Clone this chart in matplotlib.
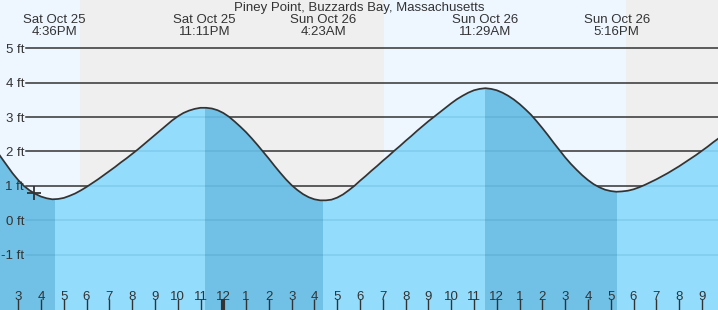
import matplotlib
matplotlib.use("Agg")
import matplotlib.pyplot as plt
import matplotlib.transforms as mtransforms
import numpy as np

plt.rcParams['font.family'] = ['Liberation Sans', 'DejaVu Sans']

# ---------------- data ----------------
title = "Piney Point, Buzzards Bay, Massachusetts"

# hours since Sat Oct 25 00:00, every 15 minutes
hours = np.arange(14.0, 46.001, 0.25)
heights = [2.07, 1.83, 1.60, 1.37, 1.17, 1.00, 0.87, 0.77, 0.69, 0.64,
           0.61, 0.62, 0.65, 0.71, 0.78, 0.87, 0.97, 1.08, 1.19, 1.31,
           1.43, 1.55, 1.68, 1.80, 1.93, 2.06, 2.20, 2.34, 2.48, 2.62,
           2.76, 2.90, 3.02, 3.12, 3.19, 3.24, 3.27, 3.27, 3.25, 3.20,
           3.12, 3.01, 2.87, 2.72, 2.56, 2.38, 2.19, 1.99, 1.79, 1.58,
           1.38, 1.19, 1.02, 0.88, 0.76, 0.67, 0.61, 0.58, 0.58, 0.60,
           0.66, 0.75, 0.87, 1.00, 1.15, 1.29, 1.44, 1.58, 1.73, 1.87,
           2.02, 2.16, 2.31, 2.45, 2.60, 2.74, 2.88, 3.01, 3.14, 3.27,
           3.40, 3.52, 3.62, 3.71, 3.78, 3.82, 3.84, 3.82, 3.78, 3.71,
           3.62, 3.51, 3.38, 3.23, 3.07, 2.88, 2.68, 2.47, 2.25, 2.04,
           1.83, 1.64, 1.47, 1.31, 1.17, 1.05, 0.96, 0.89, 0.85, 0.83,
           0.84, 0.86, 0.90, 0.96, 1.03, 1.11, 1.19, 1.28, 1.37, 1.47,
           1.57, 1.68, 1.79, 1.90, 2.02, 2.14, 2.27, 2.39, 2.52]

extreme_hours = [16.6, 23.183, 28.383, 35.483, 41.267]
extreme_kinds = ['L', 'H', 'L', 'H', 'L']
extreme_dates = ['Sat Oct 25', 'Sat Oct 25', 'Sun Oct 26', 'Sun Oct 26', 'Sun Oct 26']
extreme_times = ['4:36PM', '11:11PM', '4:23AM', '11:29AM', '5:16PM']

sunsets = [17.71, 41.67]
sunrises = [31.05, 55.0]

now_hour = 15.7
now_height = 0.80

tick_hours = list(range(15, 46))
tick_labels = ['3', '4', '5', '6', '7', '8', '9', '10', '11', '12',
               '1', '2', '3', '4', '5', '6', '7', '8', '9', '10', '11', '12',
               '1', '2', '3', '4', '5', '6', '7', '8', '9']
midnight_hours = [24]

ytick_vals = [5, 4, 3, 2, 1, 0, -1]
ytick_labels = ['5 ft', '4 ft', '3 ft', '2 ft', '1 ft', '0 ft', '-1 ft']

# ---------------- style ----------------
DAY = '#eef7ff'
NIGHT = '#efefef'
LIGHT = '#93dcfc'
DARK = '#71c0e5'
INK = '#333333'

W, H = 718, 310
fig = plt.figure(figsize=(W / 100, H / 100), dpi=100)
ax = fig.add_axes([0, 0, 1, 1])
X0, X1 = 14.202, 45.707
Y0, Y1 = -2.608, 6.404
ax.set_xlim(X0, X1)
ax.set_ylim(Y0, Y1)
ax.set_facecolor(DAY)
for s in ax.spines.values():
    s.set_visible(False)

# night shading
for ss, sr in zip(sunsets, sunrises):
    ax.axvspan(ss, sr, color=NIGHT, lw=0, zorder=0)

# grid lines (above water they are dark)
for y in ytick_vals:
    ax.axhline(y, xmin=26 / W, xmax=1, color=INK, lw=1.1, zorder=1)

# water
poly = ax.fill_between(hours, heights, Y0, color=LIGHT, lw=0, zorder=2)
clip = poly.get_paths()[0]

# ebb (falling tide) spans are darker
starts = [X0] + [h for h, k in zip(extreme_hours, extreme_kinds) if k == 'H']
ends = [h for h, k in zip(extreme_hours, extreme_kinds) if k == 'L']
for a, b in zip(starts, ends):
    r = ax.axvspan(a, b, color=DARK, lw=0, zorder=2.1)
    r.set_clip_path(clip, ax.transData)

# grid lines seen through water
for y in ytick_vals:
    ln = ax.axhline(y, xmin=26 / W, xmax=1, color='#1d6f9c', alpha=0.16,
                    lw=1.1, zorder=3)
    ln.set_clip_path(clip, ax.transData)

# tide curve
ax.plot(hours, heights, color=INK, lw=1.25, zorder=4, solid_joinstyle='round')
ax.plot([now_hour], [now_height], marker='+', ms=10, mew=1.3, color=INK,
        zorder=5, ls='none')

# x ticks (inside)
ax.xaxis.set_zorder(6)
ax.yaxis.set_zorder(6)
ax.xaxis.remove_overlapping_locs = False
ax.set_xticks(tick_hours, tick_labels)
ax.set_xticks(midnight_hours, minor=True)
ax.tick_params(axis='x', which='major', direction='in', length=8, width=1,
               color=INK, labelcolor=INK, labelsize=9.5, pad=-5.0)
ax.tick_params(axis='x', which='minor', direction='in', length=8, width=3,
               color=INK)
for lbl in ax.get_xticklabels():
    lbl.set_va('bottom')

# y labels
ax.set_yticks(ytick_vals, ytick_labels)
ax.tick_params(axis='y', which='both', length=0, labelcolor=INK,
               labelsize=9.5, pad=-17.3)

# title and extreme labels
ax.text(0.5, 1 - 8 / H, title, transform=ax.transAxes, ha='center',
        va='center', fontsize=9.5, color=INK)
trans = mtransforms.blended_transform_factory(ax.transData, ax.transAxes)
for h, d, t in zip(extreme_hours, extreme_dates, extreme_times):
    ax.text(h, 1 - 20 / H, d, transform=trans, ha='center', va='center',
            fontsize=9.5, color=INK)
    ax.text(h, 1 - 32 / H, t, transform=trans, ha='center', va='center',
            fontsize=9.5, color=INK)

fig.savefig('out.png', dpi=100)
